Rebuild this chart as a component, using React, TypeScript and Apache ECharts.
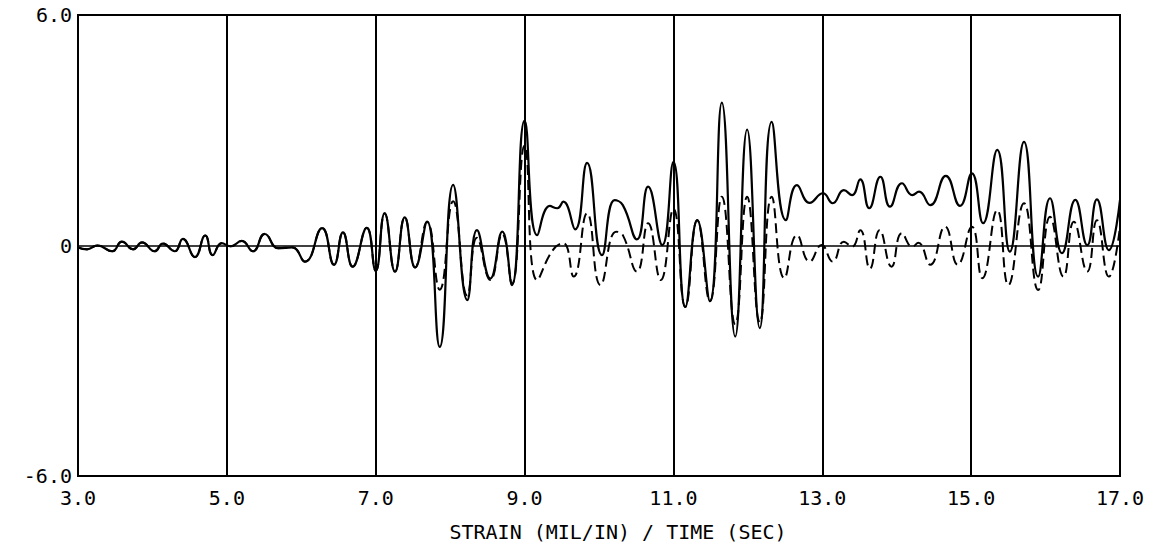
import React, { useEffect, useRef } from "react";
import * as echarts from "echarts";

// x positions (sec) and strain values
const solidX = [3.0, 3.12, 3.26, 3.46, 3.59, 3.74, 3.86, 4.03, 4.14, 4.30, 4.41, 4.57, 4.71, 4.81, 4.93, 5.05, 5.20, 5.35, 5.51, 5.69, 5.88, 6.05, 6.28, 6.44, 6.56, 6.69, 6.88, 7.0, 7.12, 7.26, 7.39, 7.53, 7.69, 7.86, 8.04, 8.23, 8.36, 8.54, 8.70, 8.83, 9.0, 9.17, 9.34, 9.44, 9.52, 9.68, 9.84, 10.04, 10.21, 10.32, 10.51, 10.66, 10.85, 11.0, 11.16, 11.32, 11.49, 11.65, 11.83, 11.99, 12.16, 12.32, 12.51, 12.66, 12.83, 13.01, 13.14, 13.29, 13.40, 13.51, 13.63, 13.78, 13.91, 14.07, 14.21, 14.30, 14.45, 14.66, 14.85, 15.01, 15.16, 15.35, 15.52, 15.71, 15.90, 16.06, 16.22, 16.40, 16.56, 16.69, 16.85, 17.0];
const solidY = [-0.05, -0.1, 0.0, -0.15, 0.1, -0.1, 0.08, -0.15, 0.05, -0.15, 0.17, -0.3, 0.26, -0.25, 0.06, -0.02, 0.12, -0.15, 0.3, -0.07, -0.05, -0.42, 0.45, -0.5, 0.34, -0.55, 0.46, -0.66, 0.84, -0.68, 0.73, -0.57, 0.62, -2.64, 1.58, -1.42, 0.4, -0.86, 0.36, -1.03, 3.25, 0.27, 1.03, 0.97, 1.14, 0.42, 2.15, -0.25, 1.18, 1.05, 0.16, 1.53, 0.01, 2.18, -1.6, 0.66, -1.45, 3.72, -2.37, 3.02, -2.15, 3.22, 0.66, 1.57, 1.11, 1.36, 1.1, 1.44, 1.31, 1.72, 0.97, 1.79, 1.01, 1.62, 1.31, 1.4, 1.05, 1.81, 1.03, 1.88, 0.58, 2.49, -0.16, 2.7, -0.81, 1.23, -0.2, 1.19, 0.01, 1.2, -0.12, 1.19];

const dashedX = [3.0, 3.12, 3.26, 3.46, 3.59, 3.74, 3.86, 4.03, 4.14, 4.30, 4.41, 4.57, 4.71, 4.81, 4.93, 5.05, 5.20, 5.35, 5.51, 5.69, 5.88, 6.05, 6.28, 6.44, 6.56, 6.69, 6.88, 7.0, 7.12, 7.26, 7.39, 7.53, 7.69, 7.86, 8.04, 8.23, 8.36, 8.54, 8.70, 8.83, 9.0, 9.17, 9.38, 9.52, 9.66, 9.84, 10.02, 10.23, 10.32, 10.51, 10.66, 10.83, 11.0, 11.16, 11.32, 11.49, 11.65, 11.83, 11.99, 12.16, 12.32, 12.49, 12.66, 12.83, 12.99, 13.14, 13.29, 13.40, 13.51, 13.64, 13.77, 13.93, 14.07, 14.21, 14.29, 14.45, 14.65, 14.82, 15.01, 15.15, 15.35, 15.50, 15.71, 15.90, 16.06, 16.24, 16.38, 16.56, 16.69, 16.85, 17.0];
const dashedY = [-0.05, -0.1, 0.0, -0.15, 0.1, -0.1, 0.08, -0.15, 0.05, -0.15, 0.17, -0.3, 0.26, -0.25, 0.06, -0.02, 0.12, -0.15, 0.3, -0.07, -0.05, -0.42, 0.45, -0.5, 0.34, -0.55, 0.46, -0.66, 0.84, -0.68, 0.73, -0.57, 0.62, -1.15, 1.15, -1.3, 0.2, -0.9, 0.3, -1.0, 2.6, -0.9, -0.12, 0.06, -0.81, 0.84, -1.03, 0.36, 0.27, -0.68, 0.58, -0.9, 0.95, -1.6, 0.66, -1.45, 1.27, -2.05, 1.27, -2.0, 1.27, -0.85, 0.27, -0.42, 0.01, -0.42, 0.1, -0.03, 0.4, -0.6, 0.4, -0.55, 0.32, -0.03, 0.07, -0.5, 0.49, -0.5, 0.49, -0.85, 0.92, -1.03, 1.1, -1.16, 0.75, -0.81, 0.62, -0.68, 0.66, -0.81, 0.49];

const xTicks = { min: 3, max: 17, interval: 2 };
const yTicks = { min: -6, max: 6, interval: 6 };
const xName = "STRAIN (MIL/IN) / TIME (SEC)";

const FONT = "DejaVu Sans Mono";

export default function App() {
  const ref = useRef<HTMLDivElement>(null);
  useEffect(() => {
    if (!ref.current) return;
    const chart = echarts.init(ref.current, null, { renderer: "svg" });
    const solid = solidX.map((x, i) => [x, solidY[i]]);
    const dashed = dashedX.map((x, i) => [x, dashedY[i]]);
    chart.setOption({
      animation: false,
      backgroundColor: "#fff",
      grid: {
        left: 78,
        right: 40,
        top: 15,
        bottom: 72,
        show: true,
        borderColor: "#000",
        borderWidth: 2,
        backgroundColor: "transparent",
      },
      xAxis: {
        type: "value",
        min: xTicks.min,
        max: xTicks.max,
        interval: xTicks.interval,
        name: xName,
        nameLocation: "middle",
        nameGap: 46,
        nameTextStyle: { fontFamily: FONT, fontSize: 20, color: "#000", padding: [0, 0, 0, 38] },
        axisLine: { show: false },
        axisTick: { show: false },
        axisLabel: {
          formatter: (v: number) => v.toFixed(1),
          fontFamily: FONT,
          fontSize: 20,
          color: "#000",
          margin: 12,
        },
        splitLine: { show: true, lineStyle: { color: "#000", width: 2 } },
      },
      yAxis: {
        type: "value",
        min: yTicks.min,
        max: yTicks.max,
        interval: yTicks.interval,
        axisLine: { show: false },
        axisTick: { show: false },
        axisLabel: {
          formatter: (v: number) => (v === 0 ? "0" : v.toFixed(1)),
          fontFamily: FONT,
          fontSize: 20,
          color: "#000",
          margin: 6,
        },
        splitLine: { show: true, lineStyle: { color: "#000", width: 1.5 } },
      },
      series: [
        {
          type: "line",
          data: dashed,
          smooth: 0.5,
          showSymbol: false,
          lineStyle: { color: "#000", width: 2, type: [10, 5] },
          z: 3,
        },
        {
          type: "line",
          data: solid,
          smooth: 0.5,
          showSymbol: false,
          lineStyle: { color: "#000", width: 2.2 },
          z: 4,
        },
      ],
    });
    return () => chart.dispose();
  }, []);
  return (
    <div
      ref={ref}
      style={{ position: "fixed", left: 0, top: 0, width: 1160, height: 548, background: "#fff" }}
    />
  );
}
